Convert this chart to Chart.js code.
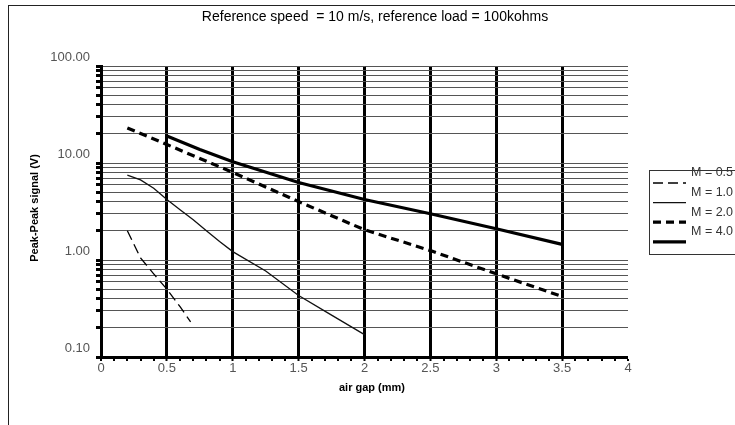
<!DOCTYPE html>
<html>
<head>
<meta charset="utf-8">
<script src="https://cdn.jsdelivr.net/npm/chart.js@4"></script>
<style>
  html, body { margin: 0; padding: 0; background: #fff; }
  #wrap { width: 735px; height: 425px; }
</style>
</head>
<body>
<div id="wrap"><canvas id="myChart" width="735" height="425"></canvas></div>
<script>
// values
const titleText = 'Reference speed  = 10 m/s, reference load = 100kohms';
const seriesLabels = ['M = 0.5', 'M = 1.0', 'M = 2.0', 'M = 4.0'];

const gapM05 = [0.2, 0.3, 0.4, 0.5, 0.6, 0.68];
const sigM05 = [2.0, 1.05, 0.72, 0.5, 0.33, 0.23];

const gapM10 = [0.2, 0.3, 0.4, 0.5, 0.6, 0.7, 0.8, 0.9, 1.0, 1.25, 1.5, 1.75, 2.0];
const sigM10 = [7.5, 6.7, 5.5, 4.2, 3.3, 2.6, 2.0, 1.55, 1.22, 0.77, 0.43, 0.27, 0.17];

const gapM20 = [0.2, 0.5, 1.0, 1.5, 2.0, 2.5, 3.0, 3.5];
const sigM20 = [23, 15.5, 8.0, 4.0, 2.05, 1.25, 0.72, 0.42];

const gapM40 = [0.5, 0.75, 1.0, 1.5, 2.0, 2.5, 3.0, 3.5];
const sigM40 = [19, 13.8, 10.3, 6.3, 4.2, 3.0, 2.1, 1.45];

const yTickValues = [0.1, 0.2, 0.3, 0.4, 0.5, 0.6, 0.7, 0.8, 0.9,
                     1, 2, 3, 4, 5, 6, 7, 8, 9,
                     10, 20, 30, 40, 50, 60, 70, 80, 90, 100];
const yLabelValues = [0.1, 1, 10, 100];
const xTickValues = [];
for (let i = 0; i <= 40; i++) xTickValues.push(i / 10);

function pts(xs, ys) {
    return xs.map((x, i) => ({ x: x, y: ys[i] }));
}
function isHalf(v) {
    return Math.abs(v * 2 - Math.round(v * 2)) < 1e-6;
}

// title, axis titles, outer frame and the legend
const extras = {
    id: 'extras',
    afterDraw(chart) {
        const c = chart.ctx;
        c.save();
        c.strokeStyle = '#222';
        c.lineWidth = 1;
        c.strokeRect(8.5, 5.5, 800, 500);

        c.fillStyle = '#000';
        c.textAlign = 'center';
        c.textBaseline = 'middle';
        c.font = '14px "Liberation Sans", Arial, sans-serif';
        c.fillText(titleText, 375, 17);

        c.font = 'bold 11px "Liberation Sans", Arial, sans-serif';
        c.fillText('air gap (mm)', 372, 388);
        c.save();
        c.translate(35, 208);
        c.rotate(-Math.PI / 2);
        c.fillText('Peak-Peak signal (V)', 0, 0);
        c.restore();

        // legend box
        c.strokeStyle = '#333';
        c.lineWidth = 1;
        c.strokeRect(649.5, 170.5, 120, 84);
        c.font = '12.5px "Liberation Sans", Arial, sans-serif';
        c.textAlign = 'left';
        chart.data.datasets.forEach((ds, i) => {
            const ly = 183 + 19.6 * i;
            c.strokeStyle = ds.borderColor;
            c.lineWidth = ds.borderWidth;
            c.setLineDash(ds.borderDash || []);
            c.beginPath();
            c.moveTo(653, ly);
            c.lineTo(686, ly);
            c.stroke();
            c.setLineDash([]);
            c.fillStyle = '#333';
            c.fillText(ds.label, 691, 172.7 + 19.7 * i);
        });
        c.restore();
    }
};

function createChart() {
    const ctx = document.getElementById('myChart').getContext('2d');
    new Chart(ctx, {
        type: 'line',
        data: {
            datasets: [{
                label: seriesLabels[0],
                data: pts(gapM05, sigM05),
                borderColor: '#000',
                borderWidth: 1.3,
                borderDash: [10, 5]
            }, {
                label: seriesLabels[1],
                data: pts(gapM10, sigM10),
                borderColor: '#111',
                borderWidth: 1.3
            }, {
                label: seriesLabels[2],
                data: pts(gapM20, sigM20),
                borderColor: '#000',
                borderWidth: 3.2,
                borderDash: [8, 5]
            }, {
                label: seriesLabels[3],
                data: pts(gapM40, sigM40),
                borderColor: '#000',
                borderWidth: 3.2
            }]
        },
        options: {
            responsive: false,
            animation: false,
            devicePixelRatio: 1,
            layout: { padding: { left: 0, right: 107, top: 66, bottom: 0 } },
            elements: { point: { radius: 0 }, line: { tension: 0 } },
            plugins: {
                legend: { display: false },
                title: { display: false },
                tooltip: { enabled: false }
            },
            scales: {
                x: {
                    type: 'linear',
                    min: 0,
                    max: 4,
                    afterBuildTicks: s => { s.ticks = xTickValues.map(v => ({ value: v })); },
                    afterFit: s => { s.height = 68; },
                    border: { color: '#000', width: 3 },
                    grid: {
                        color: '#000',
                        lineWidth: c => (c.tick && isHalf(c.tick.value) && c.tick.value > 0 && c.tick.value < 4) ? 3 : 0,
                        tickColor: '#000',
                        tickWidth: 2,
                        tickLength: 4
                    },
                    ticks: {
                        autoSkip: false,
                        maxRotation: 0,
                        padding: 0,
                        color: '#555',
                        font: { family: '"Liberation Sans", Arial, sans-serif', size: 13 },
                        callback: v => isHalf(v) ? String(Math.round(v * 2) / 2) : ''
                    }
                },
                y: {
                    type: 'logarithmic',
                    min: 0.1,
                    max: 100,
                    afterBuildTicks: s => { s.ticks = yTickValues.map(v => ({ value: v })); },
                    afterFit: s => { s.width = 101; },
                    border: { color: '#000', width: 3 },
                    grid: {
                        color: '#555',
                        lineWidth: 1,
                        tickColor: '#000',
                        tickWidth: 3,
                        tickLength: 5
                    },
                    ticks: {
                        autoSkip: false,
                        padding: 6,
                        labelOffset: -9,
                        color: '#555',
                        font: { family: '"Liberation Sans", Arial, sans-serif', size: 13 },
                        callback: v => yLabelValues.some(l => Math.abs(l - v) < 1e-9) ? Number(v).toFixed(2) : ''
                    }
                }
            }
        },
        plugins: [extras]
    });
}

createChart();
</script>
</body>
</html>
